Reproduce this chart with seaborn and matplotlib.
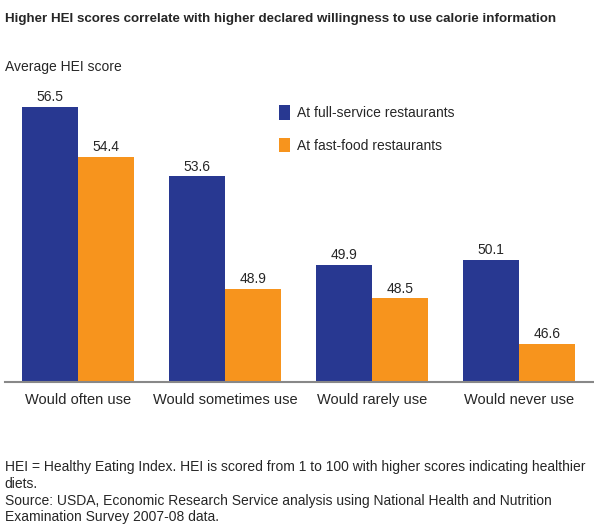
import matplotlib
matplotlib.use("Agg")
import matplotlib.pyplot as plt
import seaborn as sns
import pandas as pd

categories = ["Would often use", "Would sometimes use", "Would rarely use", "Would never use"]
series = ["At full-service restaurants", "At fast-food restaurants"]
full_service = [56.5, 53.6, 49.9, 50.1]
fast_food = [54.4, 48.9, 48.5, 46.6]

df = pd.DataFrame({
    "cat": categories * 2,
    "series": [series[0]] * 4 + [series[1]] * 4,
    "val": full_service + fast_food,
})

sns.set_theme(style="white")
plt.rcParams['font.family'] = ['Liberation Sans', 'DejaVu Sans']
fig = plt.figure(figsize=(5.94, 5.24), dpi=100)
ax = fig.add_axes([0.008, 0.271, 0.99, 0.575])
sns.barplot(data=df, x="cat", y="val", hue="series", order=categories, hue_order=series,
            palette=["#283891", "#F7941D"], width=0.76, ax=ax, saturation=1, gap=0,
            linewidth=0)
ax.set_ylim(45, 57.6)
ax.set_xlim(-0.5, 3.5)
for c in ax.containers:
    ax.bar_label(c, fmt="%.1f", padding=2, fontsize=10)
ax.set_yticks([])
ax.set_xlabel("")
ax.set_ylabel("")
ax.tick_params(axis="x", labelsize=10.5, length=0, pad=8)
for s in ["top", "right", "left"]:
    ax.spines[s].set_visible(False)
ax.spines["bottom"].set_color("#888888")
ax.spines["bottom"].set_linewidth(1.5)
leg = ax.legend(loc="upper left", bbox_to_anchor=(0.445, 0.96), frameon=False, fontsize=10,
                handlelength=0.8, handleheight=1.25, labelspacing=1.25, handletextpad=0.5)

fig.text(0.008, 0.975, "Higher HEI scores correlate with higher declared willingness to use calorie information",
         fontsize=9.6, fontweight="bold", va="top")
fig.text(0.008, 0.885, "Average HEI score", fontsize=10, va="top")
fig.text(0.008, 0.122, "HEI = Healthy Eating Index. HEI is scored from 1 to 100 with higher scores indicating healthier\ndiets.\nSource: USDA, Economic Research Service analysis using National Health and Nutrition\nExamination Survey 2007-08 data.",
         fontsize=10, va="top", linespacing=1.25)
fig.savefig("out.png", dpi=100)
